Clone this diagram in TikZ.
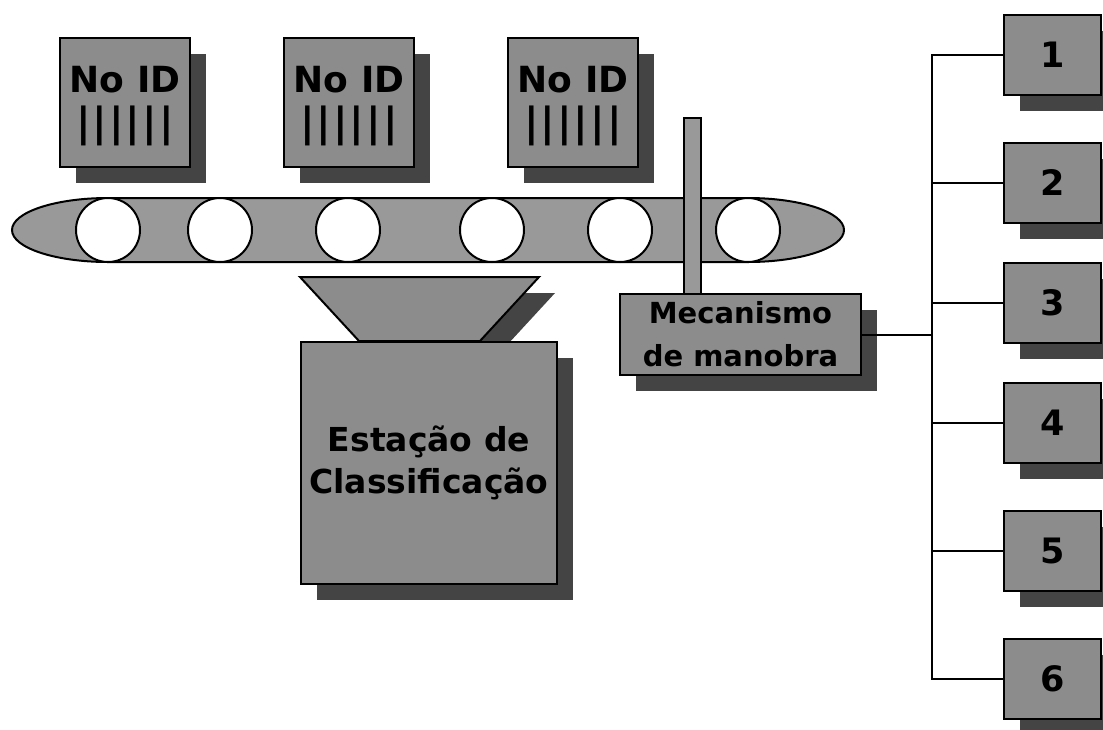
\documentclass[tikz,border=0pt]{standalone}
\usepackage{fontspec}
\setmainfont{DejaVu Sans}
\usetikzlibrary{shadows}
\definecolor{boxgray}{RGB}{140,140,140}
\definecolor{beltgray}{RGB}{153,153,153}
\definecolor{shadowgray}{RGB}{68,68,68}
\newcommand{\noidtext}{\rule{0pt}{33pt}No ID\\{\fontsize{40}{44}\selectfont\addfontfeature{LetterSpace=5}||||||}}
\tikzset{
  sh/.style={general shadow={fill=shadowgray, shadow xshift=16pt, shadow yshift=-16pt}},
  grayblock/.style={draw=black, line width=2pt, fill=boxgray, sh, rectangle, anchor=north west, inner sep=0pt, align=center, font=\bfseries},
  noid/.style={grayblock, minimum width=130pt, minimum height=129pt, font=\bfseries\fontsize{36}{44}\selectfont},
  numbox/.style={grayblock, minimum width=97pt, minimum height=80pt, font=\bfseries\fontsize{35}{40}\selectfont},
  roller/.style={circle, draw=black, line width=2pt, fill=white, minimum size=64pt, inner sep=0pt},
  conn/.style={draw=black, line width=2pt}
}
\begin{document}
\begin{tikzpicture}[x=1pt,y=-1pt]
\useasboundingbox (0,0) rectangle (1103,729);
% items without ID
\node[noid] (id1) at (59,37) {\noidtext};
\node[noid] (id2) at (283,37) {\noidtext};
\node[noid] (id3) at (507,37) {\noidtext};
% conveyor belt
\draw[line width=2pt, fill=beltgray] (108,198) -- (748,198)
  arc[start angle=90, end angle=-90, x radius=96pt, y radius=32pt]
  -- (108,262)
  arc[start angle=270, end angle=90, x radius=96pt, y radius=32pt] -- cycle;
\node[roller] (r1) at (108,230) {};
\node[roller] (r2) at (220,230) {};
\node[roller] (r3) at (348,230) {};
\node[roller] (r4) at (492,230) {};
\node[roller] (r5) at (620,230) {};
\node[roller] (r6) at (748,230) {};
% diverter rod
\node[draw=black, line width=2pt, fill=beltgray, anchor=north west, minimum width=17pt, minimum height=176pt, inner sep=0pt] (rod) at (683,117) {};
% funnel
\path[draw=black, line width=2pt, fill=boxgray, sh] (300,277) -- (539,277) -- (480,341) -- (359,341) -- cycle;
% classification station
\node[grayblock, minimum width=256pt, minimum height=242pt, font=\bfseries\fontsize{33}{42}\selectfont] (est) at (300,341) {Estação de\\Classificação};
% mechanism
\node[grayblock, minimum width=241pt, minimum height=81pt, font=\bfseries\fontsize{29}{43}\selectfont] (mec) at (619,293) {Mecanismo\\de manobra};
% outputs
\coordinate (trunk) at (932,0);
\node[numbox] (b1) at (1003,14) {1};
\node[numbox] (b2) at (1003,142) {2};
\node[numbox] (b3) at (1003,262) {3};
\node[numbox] (b4) at (1003,382) {4};
\node[numbox] (b5) at (1003,510) {5};
\node[numbox] (b6) at (1003,638) {6};
\draw[conn] (mec.east) -- (mec.east -| trunk);
\draw[conn] (b1.west) -- (b1.west -| trunk) -- (b6.west -| trunk) -- (b6.west);
\draw[conn] (b2.west) -- (b2.west -| trunk);
\draw[conn] (b3.west) -- (b3.west -| trunk);
\draw[conn] (b4.west) -- (b4.west -| trunk);
\draw[conn] (b5.west) -- (b5.west -| trunk);
\end{tikzpicture}
\end{document}
